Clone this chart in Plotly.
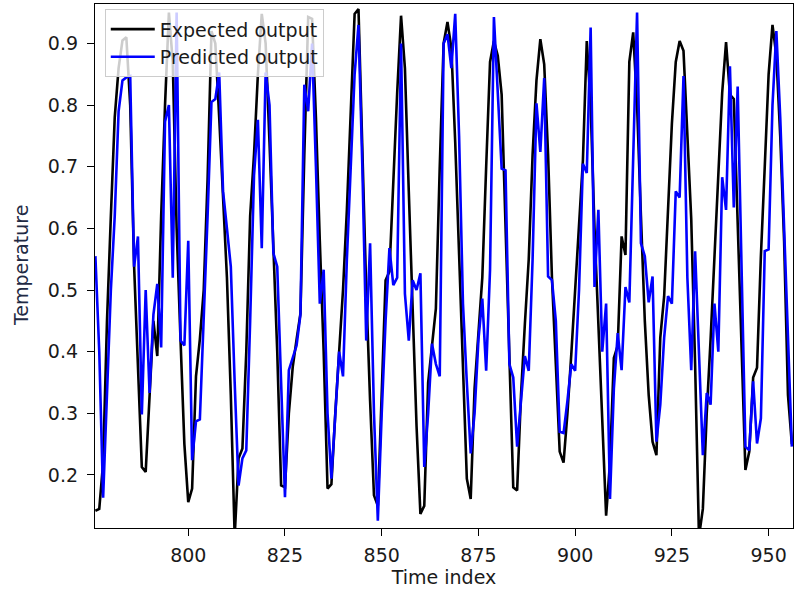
import plotly.graph_objects as go

# Time index of the first sample; one sample per step
start_index = 776

expected_output = [
    0.142, 0.145, 0.22, 0.45, 0.62, 0.78, 0.86, 0.905, 0.91, 0.80,
    0.54, 0.38, 0.213, 0.205, 0.33, 0.45, 0.393, 0.62, 0.80, 0.95,
    0.87, 0.60, 0.42, 0.25, 0.156, 0.178, 0.36, 0.42, 0.50, 0.68,
    0.92, 0.90, 0.78, 0.66, 0.52, 0.33, 0.10, 0.227, 0.243, 0.40,
    0.62, 0.72, 0.85, 0.948, 0.90, 0.74, 0.56, 0.40, 0.183, 0.18,
    0.30, 0.375, 0.42, 0.462, 0.72, 0.943, 0.94, 0.78, 0.58, 0.40,
    0.178, 0.185, 0.30, 0.40, 0.50, 0.63, 0.80, 0.948, 0.956, 0.72,
    0.50, 0.32, 0.167, 0.15, 0.34, 0.516, 0.53, 0.68, 0.82, 0.945,
    0.86, 0.66, 0.47, 0.28, 0.137, 0.15, 0.35, 0.41, 0.47, 0.70,
    0.90, 0.935, 0.893, 0.74, 0.55, 0.38, 0.194, 0.161, 0.34, 0.43,
    0.52, 0.70, 0.87, 0.904, 0.88, 0.817, 0.60, 0.38, 0.18, 0.175,
    0.33, 0.445, 0.55, 0.72, 0.84, 0.907, 0.866, 0.72, 0.52, 0.38,
    0.238, 0.22, 0.30, 0.396, 0.50, 0.62, 0.71, 0.904, 0.80, 0.60,
    0.45, 0.30, 0.134, 0.22, 0.39, 0.41, 0.587, 0.557, 0.87, 0.918,
    0.80, 0.62, 0.45, 0.33, 0.254, 0.232, 0.423, 0.49, 0.62, 0.77,
    0.87, 0.904, 0.888, 0.75, 0.615, 0.38, 0.10, 0.145, 0.30, 0.42,
    0.56, 0.70, 0.82, 0.902, 0.817, 0.81, 0.60, 0.40, 0.208, 0.238,
    0.358, 0.374, 0.555, 0.70, 0.85, 0.93, 0.88, 0.75, 0.58, 0.33,
    0.25,
]

predicted_output = [
    0.555, 0.40, 0.163, 0.33, 0.50, 0.62, 0.79, 0.84, 0.845, 0.847,
    0.538, 0.587, 0.298, 0.50, 0.333, 0.46, 0.51, 0.407, 0.773, 0.80,
    0.52, 0.95, 0.418, 0.41, 0.58, 0.224, 0.287, 0.29, 0.45, 0.62,
    0.805, 0.81, 0.853, 0.66, 0.60, 0.538, 0.35, 0.183, 0.227, 0.24,
    0.45, 0.686, 0.776, 0.568, 0.853, 0.80, 0.56, 0.538, 0.35, 0.164,
    0.37, 0.39, 0.41, 0.46, 0.833, 0.79, 0.90, 0.70, 0.478, 0.533,
    0.30, 0.194, 0.30, 0.40, 0.36, 0.55, 0.70, 0.85, 0.93, 0.70,
    0.418, 0.576, 0.30, 0.126, 0.30, 0.45, 0.568, 0.508, 0.52, 0.90,
    0.494, 0.418, 0.516, 0.50, 0.527, 0.213, 0.30, 0.413, 0.38, 0.36,
    0.90, 0.915, 0.86, 0.948, 0.75, 0.478, 0.35, 0.235, 0.30, 0.42,
    0.486, 0.369, 0.533, 0.943, 0.82, 0.697, 0.694, 0.38, 0.358, 0.246,
    0.32, 0.393, 0.369, 0.55, 0.803, 0.724, 0.844, 0.522, 0.516, 0.45,
    0.27, 0.268, 0.32, 0.38, 0.369, 0.50, 0.705, 0.69, 0.926, 0.505,
    0.63, 0.40, 0.478, 0.161, 0.34, 0.43, 0.37, 0.505, 0.48, 0.70,
    0.95, 0.576, 0.555, 0.48, 0.522, 0.254, 0.314, 0.423, 0.49, 0.478,
    0.66, 0.65, 0.847, 0.52, 0.37, 0.563, 0.40, 0.232, 0.333, 0.314,
    0.478, 0.40, 0.683, 0.63, 0.863, 0.634, 0.83, 0.55, 0.246, 0.24,
    0.352, 0.251, 0.292, 0.563, 0.566, 0.80, 0.92, 0.78, 0.60, 0.42,
    0.246,
]

time_index = list(range(start_index, start_index + len(expected_output)))

x_ticks = [800, 825, 850, 875, 900, 925, 950]
y_ticks = [0.2, 0.3, 0.4, 0.5, 0.6, 0.7, 0.8, 0.9]

FONT = "DejaVu Sans"
TEXT = "#1a1a1a"
SIZE = 19

fig = go.Figure()
fig.add_trace(go.Scatter(
    x=time_index, y=expected_output, mode="lines", name="Expected output",
    line=dict(color="black", width=2.6),
))
fig.add_trace(go.Scatter(
    x=time_index, y=predicted_output, mode="lines", name="Predicted output",
    line=dict(color="#0000ff", width=2.6),
))

axis_common = dict(
    showline=True, linecolor="black", linewidth=1.3, mirror=True,
    ticks="outside", ticklen=7, tickwidth=1.3, tickcolor="black",
    showgrid=False, zeroline=False,
    tickfont=dict(family=FONT, size=SIZE, color=TEXT),
)

fig.update_layout(
    width=794, height=589,
    margin=dict(l=95, r=1, t=4, b=61),
    paper_bgcolor="white", plot_bgcolor="white",
    font=dict(family=FONT, size=SIZE, color=TEXT),
    xaxis=dict(
        range=[775.9, 956.3], tickvals=x_ticks,
        ticktext=[str(v) for v in x_ticks],
        ticklabelstandoff=3,
        title=dict(text="Time index", font=dict(family=FONT, size=SIZE, color=TEXT), standoff=4),
        **axis_common,
    ),
    yaxis=dict(
        range=[0.114, 0.964], tickvals=y_ticks,
        ticktext=[f"{v:.1f}" for v in y_ticks],
        ticklabelstandoff=5,
        **axis_common,
    ),
    legend=dict(
        x=0.014, y=0.99, xanchor="left", yanchor="top",
        bgcolor="rgba(255,255,255,0.8)", bordercolor="#cccccc", borderwidth=1,
        font=dict(family=FONT, size=SIZE, color=TEXT),
        tracegroupgap=0, itemwidth=44,
    ),
    showlegend=True,
)

# y-axis title placed as a rotated annotation to sit close to the left edge
fig.add_annotation(
    text="Temperature", textangle=-90, showarrow=False,
    xref="paper", yref="paper", x=-0.106, y=0.5,
    xanchor="center", yanchor="middle",
    font=dict(family=FONT, size=SIZE, color="#1f2a44"),
)

fig.write_html("out.html")
